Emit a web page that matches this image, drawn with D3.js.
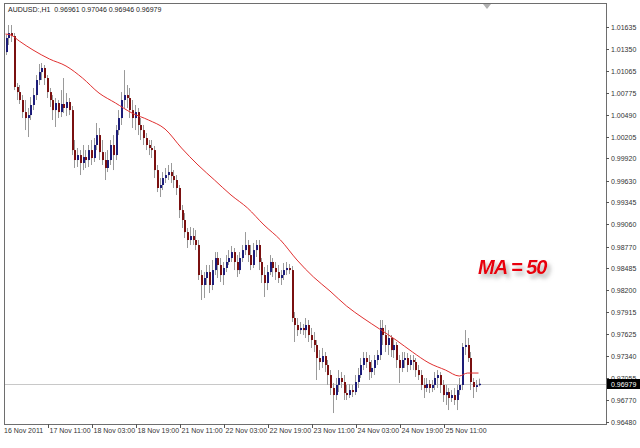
<!DOCTYPE html>
<html><head><meta charset="utf-8">
<script src="https://cdn.jsdelivr.net/npm/d3@7/dist/d3.min.js"></script>
<style>
html,body{margin:0;padding:0;background:#fff;}
svg{display:block;}
text{font-family:"Liberation Sans",Arial,sans-serif;}
</style></head>
<body>
<svg id="chart" width="640" height="448"></svg>
<script>
const symbolTitle = "AUDUSD:,H1  0.96961 0.97046 0.96946 0.96979";
const timeLabels = ["16 Nov 2011","17 Nov 11:00","18 Nov 03:00","18 Nov 19:00","21 Nov 11:00","22 Nov 03:00","22 Nov 19:00","23 Nov 11:00","24 Nov 03:00","24 Nov 19:00","25 Nov 11:00"];
const timeLabelBars = [0,16,32,48,64,80,96,112,128,144,160];
const priceTicks = ["1.01635","1.01350","1.01065","1.00775","1.00490","1.00205","0.99920","0.99630","0.99345","0.99060","0.98770","0.98485","0.98200","0.97915","0.97625","0.97340","0.97055","0.96770","0.96480"];
const lastPrice = 0.96979;
const maLabel = "MA = 50";

const opens = [1.01308,1.01491,1.01556,1.01517,1.00852,1.00786,1.00682,1.00525,1.00447,1.00486,1.00617,1.00747,1.00943,1.01047,1.01100,1.00969,1.00786,1.00682,1.00551,1.00643,1.00525,1.00630,1.00578,1.00656,1.00551,1.00029,0.99899,0.99964,0.99860,0.99938,0.99899,1.00029,0.99925,1.00095,1.00225,1.00003,0.99899,0.99795,0.99899,1.00095,0.99964,1.00290,1.00447,1.00682,1.00747,1.00708,1.00551,1.00447,1.00525,1.00356,1.00290,1.00186,1.00095,1.00056,1.00029,0.99768,0.99534,0.99573,0.99664,0.99703,0.99742,0.99690,0.99638,0.99534,0.99246,0.99116,0.98959,0.98855,0.98907,0.98855,0.98790,0.98398,0.98268,0.98359,0.98437,0.98268,0.98463,0.98620,0.98529,0.98398,0.98490,0.98568,0.98620,0.98698,0.98568,0.98463,0.98620,0.98724,0.98790,0.98659,0.98529,0.98724,0.98790,0.98568,0.98398,0.98294,0.98437,0.98568,0.98490,0.98437,0.98359,0.98398,0.98463,0.98490,0.98463,0.97837,0.97746,0.97680,0.97707,0.97680,0.97746,0.97615,0.97550,0.97485,0.97315,0.97263,0.97341,0.97224,0.97093,0.96924,0.96832,0.96963,0.97054,0.97002,0.96858,0.96832,0.96897,0.96871,0.97002,0.97093,0.97224,0.97315,0.97263,0.97132,0.97185,0.97289,0.97354,0.97707,0.97615,0.97485,0.97576,0.97419,0.97485,0.97289,0.97185,0.97289,0.97315,0.97224,0.97289,0.97263,0.97158,0.97093,0.96963,0.96924,0.96976,0.96924,0.96963,0.97054,0.97093,0.96963,0.96832,0.96871,0.96793,0.96832,0.96767,0.96897,0.96963,0.97459,0.97485,0.97315,0.97002,0.96937,0.96961];
const highs = [1.01530,1.01661,1.01661,1.01556,1.00904,1.00878,1.00747,1.00682,1.00578,1.00721,1.00839,1.01008,1.01152,1.01165,1.01139,1.01008,1.00839,1.00747,1.00708,1.00682,1.00812,1.00969,1.00773,1.00708,1.00604,1.00160,1.00056,1.00029,1.00095,1.00029,1.00095,1.00160,1.00186,1.00382,1.00317,1.00160,1.00003,1.00029,1.00160,1.00225,1.00356,1.00551,1.00786,1.01073,1.00878,1.00839,1.00682,1.00617,1.00578,1.00447,1.00356,1.00251,1.00160,1.00160,1.00082,0.99834,0.99664,0.99742,0.99795,0.99834,0.99860,0.99768,0.99703,0.99573,0.99312,0.99207,0.99012,0.99025,0.99012,0.98985,0.98855,0.98463,0.98437,0.98529,0.98529,0.98594,0.98698,0.98698,0.98620,0.98568,0.98659,0.98724,0.98777,0.98751,0.98659,0.98698,0.98790,0.98959,0.98855,0.98790,0.98816,0.98855,0.98855,0.98620,0.98503,0.98529,0.98659,0.98620,0.98568,0.98529,0.98463,0.98555,0.98568,0.98542,0.98516,0.97915,0.97837,0.97785,0.97759,0.97837,0.97811,0.97707,0.97654,0.97550,0.97419,0.97446,0.97393,0.97289,0.97158,0.96989,0.97054,0.97158,0.97132,0.97093,0.96963,0.96976,0.96963,0.97093,0.97185,0.97315,0.97393,0.97393,0.97354,0.97289,0.97354,0.97419,0.97811,0.97811,0.97746,0.97680,0.97615,0.97576,0.97524,0.97354,0.97393,0.97393,0.97380,0.97354,0.97354,0.97315,0.97224,0.97158,0.97054,0.97054,0.97028,0.97028,0.97132,0.97158,0.97132,0.97028,0.96963,0.96924,0.96897,0.96924,0.96963,0.97054,0.97511,0.97680,0.97576,0.97393,0.97054,0.97028,0.97046];
const lows = [1.01269,1.01400,1.01439,1.00812,1.00682,1.00630,1.00447,1.00290,1.00199,1.00421,1.00551,1.00682,1.00878,1.00943,1.00878,1.00708,1.00591,1.00421,1.00330,1.00447,1.00460,1.00512,1.00473,1.00486,0.99964,0.99795,0.99808,0.99703,0.99768,0.99795,0.99808,0.99834,0.99873,1.00029,0.99899,0.99834,0.99638,0.99742,0.99834,0.99768,0.99899,1.00225,1.00356,1.00578,1.00578,1.00447,1.00317,1.00290,1.00225,1.00160,1.00095,1.00029,0.99964,0.99925,0.99664,0.99481,0.99416,0.99507,0.99599,0.99638,0.99599,0.99534,0.99442,0.99142,0.99012,0.98881,0.98751,0.98790,0.98790,0.98724,0.98333,0.98072,0.98098,0.98268,0.98163,0.98202,0.98398,0.98359,0.98307,0.98268,0.98437,0.98529,0.98568,0.98463,0.98372,0.98411,0.98568,0.98659,0.98568,0.98463,0.98490,0.98633,0.98463,0.98294,0.98111,0.98202,0.98398,0.98372,0.98333,0.98294,0.98268,0.98333,0.98398,0.98411,0.97785,0.97524,0.97602,0.97628,0.97615,0.97576,0.97524,0.97446,0.97393,0.97028,0.97158,0.97185,0.97132,0.96963,0.96832,0.96597,0.96767,0.96871,0.96924,0.96767,0.96767,0.96793,0.96806,0.96832,0.96924,0.97054,0.97158,0.97185,0.97028,0.97054,0.97093,0.97224,0.97289,0.97485,0.97393,0.97354,0.97328,0.97315,0.97185,0.96989,0.97132,0.97185,0.97132,0.97158,0.97158,0.97067,0.97028,0.96897,0.96793,0.96871,0.96858,0.96871,0.96897,0.96924,0.96858,0.96741,0.96702,0.96636,0.96741,0.96702,0.96636,0.96832,0.96897,0.97354,0.97263,0.96897,0.96793,0.96871,0.96946];
const closes = [1.01491,1.01556,1.01517,1.00852,1.00786,1.00682,1.00525,1.00447,1.00486,1.00617,1.00747,1.00943,1.01047,1.01100,1.00969,1.00786,1.00682,1.00551,1.00643,1.00525,1.00630,1.00578,1.00656,1.00551,1.00029,0.99899,0.99964,0.99860,0.99938,0.99899,1.00029,0.99925,1.00095,1.00225,1.00003,0.99899,0.99795,0.99899,1.00095,0.99964,1.00290,1.00447,1.00682,1.00747,1.00708,1.00551,1.00447,1.00525,1.00356,1.00290,1.00186,1.00095,1.00056,1.00029,0.99768,0.99534,0.99573,0.99664,0.99703,0.99742,0.99690,0.99638,0.99534,0.99246,0.99116,0.98959,0.98855,0.98907,0.98855,0.98790,0.98398,0.98268,0.98359,0.98437,0.98268,0.98463,0.98620,0.98529,0.98398,0.98490,0.98568,0.98620,0.98698,0.98568,0.98463,0.98620,0.98724,0.98790,0.98659,0.98529,0.98724,0.98790,0.98568,0.98398,0.98294,0.98437,0.98568,0.98490,0.98437,0.98359,0.98398,0.98463,0.98490,0.98463,0.97837,0.97746,0.97680,0.97707,0.97680,0.97746,0.97615,0.97550,0.97485,0.97315,0.97263,0.97341,0.97224,0.97093,0.96924,0.96832,0.96963,0.97054,0.97002,0.96858,0.96832,0.96897,0.96871,0.97002,0.97093,0.97224,0.97315,0.97263,0.97132,0.97185,0.97289,0.97354,0.97707,0.97615,0.97485,0.97576,0.97419,0.97485,0.97289,0.97185,0.97289,0.97315,0.97224,0.97289,0.97263,0.97158,0.97093,0.96963,0.96924,0.96976,0.96924,0.96963,0.97054,0.97093,0.96963,0.96832,0.96871,0.96793,0.96832,0.96767,0.96897,0.96963,0.97459,0.97485,0.97315,0.97002,0.96937,0.96961,0.96979];

const maBars = [0,2,5,10,16,22,28,34,40,46,52,58,64,70,76,82,88,94,100,106,112,118,124,130,136,142,148,154,160,165,168,172];
const maValues = [1.01543,1.01530,1.01452,1.01335,1.01217,1.01126,1.00969,1.00773,1.00643,1.00512,1.00421,1.00304,1.00056,0.99834,0.99638,0.99442,0.99273,0.99051,0.98855,0.98594,0.98372,0.98189,0.97994,0.97837,0.97694,0.97550,0.97393,0.97250,0.97158,0.97080,0.97119,0.97119];

const svg = d3.select("#chart");
const L = 4, R = 606, T = 3, B = 424;

const x = d3.scaleLinear().domain([0, 172]).range([5.5, 478.5]);
const y = d3.scaleLinear().domain([0.96480, 1.01635]).range([422, 27]);

const defs = svg.append("defs");
const f = defs.append("filter").attr("id","shadow").attr("x","-20%").attr("y","-40%").attr("width","150%").attr("height","200%");
f.append("feDropShadow").attr("dx",3).attr("dy",4).attr("stdDeviation",2).attr("flood-color","#777").attr("flood-opacity",0.6);

// frame
svg.append("rect").attr("x",L+0.5).attr("y",T+0.5).attr("width",R-L).attr("height",B-T)
  .attr("fill","#fff").attr("stroke","#6e6e6e").attr("stroke-width",1);

// current price line
svg.append("line").attr("x1",L+1).attr("x2",R).attr("y1",Math.round(y(lastPrice))+0.5).attr("y2",Math.round(y(lastPrice))+0.5)
  .attr("stroke","#c8c8c8").attr("stroke-width",1);

// candles
const bars = d3.range(closes.length).map(i => ({i, o:opens[i], h:highs[i], l:lows[i], c:closes[i]}));
const g = svg.append("g");
g.selectAll("line.wick").data(bars).join("line").attr("class","wick")
  .attr("x1", d => Math.round(x(d.i))+0.5).attr("x2", d => Math.round(x(d.i))+0.5)
  .attr("y1", d => y(d.h)).attr("y2", d => y(d.l))
  .attr("stroke","#9a9a9a").attr("stroke-width",1);
g.selectAll("rect.body").data(bars).join("rect").attr("class","body")
  .attr("x", d => Math.round(x(d.i)))
  .attr("width", 2)
  .attr("y", d => Math.min(y(d.o), y(d.c)))
  .attr("height", d => Math.max(1, Math.abs(y(d.o)-y(d.c))))
  .attr("fill", d => d.c >= d.o ? "#1c1c78" : "#7a1010");

// MA line
const maData = maBars.map((b,k) => [b, maValues[k]]);
svg.append("path").datum(maData)
  .attr("d", d3.line().x(d => x(d[0])).y(d => y(d[1])).curve(d3.curveMonotoneX))
  .attr("fill","none").attr("stroke","#e03030").attr("stroke-width",1);

// right axis
const ax = svg.append("g");
priceTicks.forEach(t => {
  const yy = Math.round(y(+t)) + 0.5;
  ax.append("line").attr("x1",R).attr("x2",R+3).attr("y1",yy).attr("y2",yy).attr("stroke","#555");
  ax.append("text").attr("x",R+5).attr("y",yy+2.5).attr("font-size",7).attr("fill","#333").text(t);
});
// last price box
const ly = Math.round(y(lastPrice));
ax.append("rect").attr("x",R+1).attr("y",ly-5).attr("width",34).attr("height",10).attr("fill","#000");
ax.append("text").attr("x",R+5).attr("y",ly+2.5).attr("font-size",7).attr("fill","#fff").text(lastPrice.toFixed(5));

// bottom axis
timeLabels.forEach((t,k) => {
  const xx = Math.round(x(timeLabelBars[k])) - 1.5;
  if (k > 0) svg.append("line").attr("x1",xx).attr("x2",xx).attr("y1",B).attr("y2",B+4).attr("stroke","#555");
  svg.append("text").attr("x", k===0 ? L : xx+1).attr("y",433).attr("font-size",7).attr("fill","#333").text(t);
});

// title
svg.append("text").attr("x",8).attr("y",12).attr("font-size",7).attr("fill","#222").attr("xml:space","preserve").text(symbolTitle);

// chart shift marker
svg.append("path").attr("d","M483,4 L491,4 L487,9 Z").attr("fill","#b0b0b0");

// MA label
svg.append("text").attr("x",478).attr("y",274).attr("font-size",20).attr("letter-spacing",-1).attr("font-weight","bold").attr("font-style","italic")
  .attr("fill","#e8000b").attr("filter","url(#shadow)").text(maLabel);
</script>
</body></html>
